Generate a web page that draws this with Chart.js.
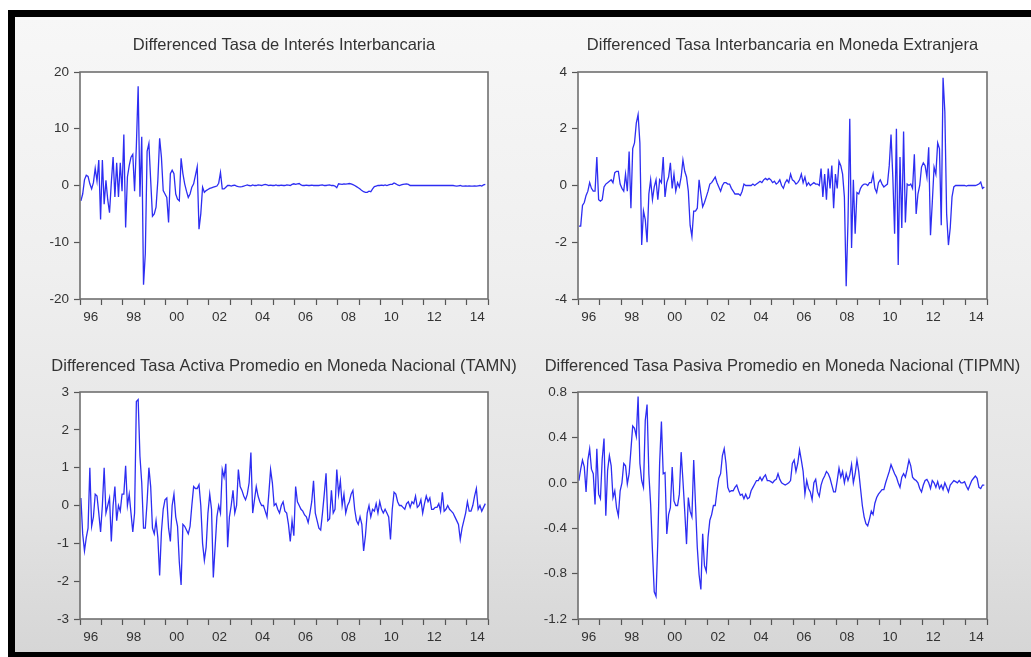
<!DOCTYPE html>
<html>
<head>
<meta charset="utf-8">
<script src="https://cdn.jsdelivr.net/npm/chart.js@4.4.1/dist/chart.umd.min.js"></script>
<style>
  html, body { margin:0; padding:0; background:#ffffff; width:1031px; height:657px; overflow:hidden; position:relative; }
  #frame { position:absolute; left:8px; top:10px; width:1060px; height:647px; box-sizing:border-box;
           border-left:7px solid #000; border-top:7px solid #000; border-bottom:5px solid #000;
           background:linear-gradient(to bottom, #f7f7f7 0%, #efefef 40%, #e4e4e4 75%, #d6d6d6 100%); }
  canvas { position:absolute; }
</style>
</head>
<body>
<div id="frame"></div>
<canvas id="c1" width="500" height="315" style="left:16px;top:17px"></canvas>
<canvas id="c2" width="515" height="315" style="left:516px;top:17px"></canvas>
<canvas id="c3" width="500" height="315" style="left:16px;top:337px"></canvas>
<canvas id="c4" width="515" height="315" style="left:516px;top:337px"></canvas>
<script>
// ---- categories: monthly observations 1996M01 .. 2014M11 ----
const months = [];
for (let y = 1996; y <= 2014; y++) {
  for (let m = 1; m <= 12; m++) {
    if (y === 2014 && m > 11) break;
    months.push(y + '-' + String(m).padStart(2, '0'));
  }
}

// ---- tick labels ----
const yearTicks = [1996,1997,1998,1999,2000,2001,2002,2003,2004,2005,2006,2007,2008,2009,2010,2011,2012,2013,2014,2015];
const yearLabels = {1996:'96',1998:'98',2000:'00',2002:'02',2004:'04',2006:'06',2008:'08',2010:'10',2012:'12',2014:'14'};
const yTicks1 = [-20,-10,0,10,20];
const yTicks2 = [-4,-2,0,2,4];
const yTicks3 = [-3,-2,-1,0,1,2,3];
const yTicks4 = [-1.2,-0.8,-0.4,0.0,0.4,0.8];

// ---- titles ----
const titles = [
  'Differenced Tasa de Interés Interbancaria',
  'Differenced Tasa Interbancaria en Moneda Extranjera',
  'Differenced Tasa Activa Promedio en Moneda Nacional (TAMN)',
  'Differenced Tasa Pasiva Promedio en Moneda Nacional (TIPMN)'
];

// ---- series values ----
const tasaInterbancaria = [
 -2.7,-1.5,1.0,1.8,1.6,0.3,-0.6,0.5,3.0,0.8,
 4.5,-6.0,4.5,-3.3,0.9,-2.5,-4.8,0.5,5.0,-2.0,
 4.0,-2.0,4.0,-1.0,9.0,-7.4,1.5,3.5,5.0,5.5,
 -1.0,7.0,17.5,-2.0,8.6,-17.5,-12.0,6.0,7.4,0.9,
 -5.4,-5.0,-3.8,0.9,8.3,5.0,-0.9,-1.5,-2.1,-6.5,
 2.1,2.7,2.1,-1.5,-2.4,-2.7,4.8,2.1,0.3,-1.0,
 -2.1,-1.5,-0.3,0.3,1.8,3.3,-7.7,-5.0,-0.3,-1.2,
 -0.9,-0.7,-0.5,-0.4,-0.3,-0.2,-0.1,0.4,2.3,-0.6,
 -0.6,-0.3,0.0,0.0,-0.1,0.0,0.05,-0.1,-0.2,-0.25,
 -0.2,-0.1,0.0,0.1,0.0,-0.05,0.1,0.0,0.0,0.1,
 0.05,0.0,0.1,0.2,0.1,0.0,0.05,0.0,0.0,0.1,
 0.0,0.0,0.05,0.0,0.0,0.1,0.05,0.0,0.2,0.3,
 0.2,0.3,0.35,0.1,0.0,0.0,0.05,0.0,0.0,0.05,
 0.0,0.0,0.0,0.0,0.05,0.1,0.0,0.0,0.05,0.1,
 0.0,0.0,-0.1,-0.4,0.3,0.25,0.2,0.3,0.25,0.3,
 0.35,0.3,0.15,0.0,-0.2,-0.4,-0.6,-0.9,-1.1,-1.2,
 -1.2,-1.0,-1.1,-0.6,-0.2,-0.1,0.0,0.0,0.05,0.0,
 0.1,0.0,0.1,0.2,0.2,0.45,0.3,0.1,0.0,0.1,
 0.2,0.25,0.3,0.2,0.0,0.0,0.0,0.0,0.0,0.0,
 0.0,0.0,0.0,0.0,0.0,0.0,0.0,0.0,0.0,0.0,
 0.0,0.0,0.0,0.0,0.0,0.0,0.0,0.0,0.0,-0.05,
 -0.1,-0.05,0.0,-0.1,-0.1,-0.05,-0.1,-0.05,-0.1,-0.1,
 -0.05,-0.1,-0.05,0.0,-0.1,0.1,0.2
];

const tasaInterbancariaME = [
 -1.43,-1.43,-0.7,-0.6,-0.35,-0.2,0.1,-0.1,-0.2,-0.2,
 1.0,-0.5,-0.55,-0.5,-0.05,0.05,0.1,0.15,0.2,0.1,
 0.45,0.5,0.5,0.05,-0.1,-0.2,0.4,-0.2,1.2,-0.8,
 1.3,1.5,2.2,2.5,1.5,-2.1,-0.9,-1.2,-2.0,-0.3,
 0.2,-0.5,-0.05,0.2,-0.5,0.2,0.1,1.0,-0.4,0.1,
 0.3,0.8,-0.1,0.4,-0.2,0.1,-0.05,0.3,0.9,0.5,
 0.3,-0.2,-1.4,-1.8,-0.9,-0.9,-0.8,0.2,-0.3,-0.75,
 -0.6,-0.4,-0.2,0.05,0.1,0.2,0.3,0.1,-0.05,-0.2,
 0.0,0.1,0.1,0.05,0.05,-0.1,-0.2,-0.3,-0.3,-0.3,
 -0.35,-0.2,0.05,0.0,0.0,0.0,0.0,0.05,0.0,0.05,
 0.1,0.15,0.1,0.2,0.25,0.2,0.25,0.2,0.1,0.15,
 0.05,0.1,0.2,0.0,-0.1,0.1,0.2,0.1,0.4,0.2,
 0.15,0.05,0.1,0.2,0.4,0.1,0.3,0.0,0.1,0.0,
 0.05,0.1,0.05,0.05,0.0,0.6,-0.4,0.4,-0.5,0.6,
 -0.1,0.7,-0.8,0.4,-0.1,0.85,0.7,0.4,-0.4,-3.55,
 -1.3,2.35,-2.2,0.2,-1.7,-0.25,-0.3,-0.1,0.0,0.05,
 0.05,0.0,0.1,0.1,0.4,-0.1,-0.25,0.1,0.2,0.05,
 -0.05,0.0,0.05,0.7,1.8,0.3,-1.7,2.0,-2.8,1.0,
 -1.5,1.9,-1.3,0.05,0.0,0.05,-0.1,1.1,-1.0,-0.3,
 0.0,0.65,0.8,0.7,0.3,1.35,-1.75,-0.6,0.65,0.4,
 1.5,1.3,-1.4,3.8,2.6,-1.0,-2.1,-1.5,-0.4,-0.05,
 0.0,0.0,0.0,0.0,0.0,0.0,-0.02,0.0,0.0,0.0,
 0.0,0.0,0.02,0.05,0.12,-0.1,-0.05
];

const tamn = [
 0.2,-0.75,-1.2,-0.85,-0.6,1.0,-0.55,-0.3,0.3,0.25,
 -0.2,-0.7,0.0,1.0,-0.2,0.0,0.2,-0.95,0.0,0.5,
 -0.4,0.0,-0.15,0.3,0.3,1.05,0.0,0.3,-0.2,-0.7,
 -0.2,2.75,2.8,1.3,0.6,-0.6,-0.6,0.1,1.0,0.5,
 -0.6,-0.75,-0.4,-0.85,-1.85,-0.7,-0.1,0.15,0.2,-0.6,
 -0.95,0.0,0.3,-0.3,-0.55,-1.5,-2.1,-0.5,-0.55,-0.65,
 -0.75,-0.55,0.0,0.5,0.45,0.45,0.55,0.0,-1.0,-1.45,
 -1.1,-0.2,0.3,-0.1,-1.9,-1.1,-0.3,0.0,-0.2,0.95,
 0.75,1.1,-1.1,-0.3,0.0,0.4,-0.2,0.0,0.95,0.5,
 0.4,0.25,0.15,0.3,0.6,1.4,-0.2,0.15,0.5,0.25,
 0.1,0.0,0.0,-0.15,-0.3,0.3,0.95,0.6,0.0,0.05,
 -0.1,-0.2,0.0,0.1,-0.15,-0.2,-0.5,-0.95,-0.4,-0.8,
 0.5,0.1,0.0,-0.1,-0.15,-0.25,-0.3,-0.45,-0.2,0.1,
 0.65,-0.2,-0.4,-0.6,-0.65,-0.2,0.3,0.85,-0.4,-0.35,
 0.4,-0.2,-0.1,0.95,0.3,0.65,0.0,0.3,-0.2,0.0,
 0.1,0.3,0.4,-0.1,-0.4,-0.5,-0.3,-0.5,-1.2,-0.8,
 -0.2,0.0,-0.3,-0.1,-0.15,0.05,-0.2,0.1,-0.1,-0.2,
 -0.1,-0.2,-0.3,-0.9,-0.1,0.35,0.3,0.1,0.0,0.0,
 -0.05,-0.1,0.05,0.1,-0.05,0.1,0.05,0.25,-0.05,0.0,
 0.15,-0.2,0.05,0.25,0.1,0.2,-0.1,-0.1,-0.05,-0.05,
 0.05,-0.15,0.35,-0.15,-0.1,0.0,-0.1,-0.15,-0.2,-0.3,
 -0.4,-0.5,-0.9,-0.6,-0.4,-0.2,0.1,-0.15,-0.15,0.0,
 0.25,0.45,-0.1,0.0,-0.15,-0.05,0.05
];

const tipmn = [
 0.02,0.12,0.2,0.14,-0.08,0.2,0.3,0.12,0.08,-0.19,
 0.3,-0.1,-0.14,0.21,0.39,-0.29,0.11,0.24,0.15,-0.13,
 -0.07,-0.22,-0.29,-0.07,0.0,0.17,0.15,-0.01,0.08,0.29,
 0.5,0.48,0.41,0.76,0.17,0.02,-0.04,0.55,0.69,0.08,
 -0.19,-0.6,-0.96,-1.0,-0.51,0.17,0.54,0.08,0.09,-0.45,
 -0.28,-0.22,0.14,-0.16,-0.2,-0.2,-0.1,0.27,0.02,-0.25,
 -0.54,-0.13,-0.25,-0.3,0.2,-0.19,-0.57,-0.81,-0.94,-0.45,
 -0.73,-0.78,-0.48,-0.33,-0.28,-0.2,-0.2,-0.07,0.04,0.08,
 0.24,0.3,0.17,-0.04,-0.08,-0.07,-0.07,-0.04,-0.02,-0.07,
 -0.11,-0.1,-0.14,-0.1,-0.14,-0.13,-0.07,-0.04,-0.01,0.02,
 0.02,0.05,0.02,0.05,0.07,0.02,0.02,0.01,0.0,0.02,
 0.03,0.08,0.03,0.0,-0.01,-0.02,-0.01,0.0,0.02,0.17,
 0.2,0.1,0.17,0.29,0.2,0.1,-0.1,0.02,-0.05,-0.08,
 -0.15,0.0,0.03,-0.08,-0.12,-0.02,0.03,0.06,0.1,0.08,
 0.04,-0.02,-0.08,-0.08,0.02,0.13,0.05,0.1,0.0,0.08,
 0.02,0.07,0.16,0.0,0.08,0.2,0.1,-0.05,-0.2,-0.3,
 -0.36,-0.38,-0.32,-0.25,-0.28,-0.18,-0.13,-0.1,-0.08,-0.06,
 -0.06,0.0,0.05,0.1,0.16,0.12,0.08,0.05,0.0,-0.04,
 0.05,0.08,0.05,0.12,0.2,0.15,0.05,0.03,0.02,0.0,
 -0.05,-0.08,-0.02,0.02,0.03,0.0,-0.05,0.02,0.0,-0.04,
 0.01,-0.05,-0.02,-0.06,0.0,-0.04,-0.08,-0.02,0.0,0.02,
 0.01,0.0,0.02,0.0,0.0,0.01,-0.03,-0.06,-0.02,0.02,
 0.04,0.06,0.04,-0.04,-0.05,-0.02,-0.02
];

// ---- rendering ----
const FONT = '"Liberation Sans", Arial, Helvetica, sans-serif';
const obsX = months.map(s => { const [y, m] = s.split('-').map(Number); return y + (m - 0.5) / 12; });

const panelDeco = {
  id: 'panelDeco',
  beforeDraw(chart) {
    const { ctx, chartArea: a } = chart;
    ctx.save();
    ctx.fillStyle = '#ffffff';
    ctx.fillRect(a.left, a.top, a.right - a.left, a.bottom - a.top);
    ctx.restore();
  },
  afterDraw(chart, args, opts) {
    const { ctx, chartArea: a } = chart;
    ctx.save();
    ctx.strokeStyle = '#707070';
    ctx.lineWidth = 1.6;
    ctx.strokeRect(a.left, a.top, a.right - a.left, a.bottom - a.top);
    ctx.fillStyle = '#333333';
    ctx.font = '16.5px ' + FONT;
    ctx.textAlign = 'center';
    ctx.textBaseline = 'middle';
    ctx.fillText(opts.text, (a.left + a.right) / 2, opts.y);
    ctx.restore();
  }
};

function makePanel(id, title, titleY, values, yTicks, fmt, padLeft, padRight) {
  const canvas = document.getElementById(id);
  return new Chart(canvas, {
    type: 'line',
    data: {
      datasets: [{
        data: values.map((v, i) => ({ x: obsX[i], y: v })),
        borderColor: '#2d2df2',
        borderWidth: 1.3,
        pointRadius: 0,
        tension: 0,
        fill: false
      }]
    },
    options: {
      responsive: false,
      animation: false,
      events: [],
      layout: { padding: { left: padLeft, right: padRight, top: 55, bottom: 3 } },
      plugins: {
        legend: { display: false },
        tooltip: { enabled: false },
        title: { display: false },
        panelDeco: { text: title, y: titleY }
      },
      scales: {
        x: {
          type: 'linear',
          min: yearTicks[0],
          max: yearTicks[yearTicks.length - 1],
          afterBuildTicks: s => { s.ticks = yearTicks.map(v => ({ value: v })); },
          afterFit: s => { s.height = 30; },
          ticks: {
            autoSkip: false, maxRotation: 0, minRotation: 0,
            labelOffset: 10.74, padding: 4,
            color: '#333333', font: { family: FONT, size: 13.5 },
            callback: v => yearLabels[v] || ''
          },
          grid: { drawOnChartArea: false, drawTicks: true, tickLength: 6, tickColor: '#555555', tickWidth: 1.2 },
          border: { display: false }
        },
        y: {
          type: 'linear',
          min: yTicks[0],
          max: yTicks[yTicks.length - 1],
          afterBuildTicks: s => { s.ticks = yTicks.map(v => ({ value: v })); },
          afterFit: s => { s.width = 44; },
          ticks: {
            padding: 5, color: '#333333', font: { family: FONT, size: 13.5 },
            callback: v => fmt(v)
          },
          grid: { drawOnChartArea: false, drawTicks: true, tickLength: 6, tickColor: '#555555', tickWidth: 1.2 },
          border: { display: false }
        }
      }
    },
    plugins: [panelDeco]
  });
}

const intFmt = v => String(Math.round(v));
const decFmt = v => v.toFixed(1);

makePanel('c1', titles[0], 28, tasaInterbancaria, yTicks1, intFmt, 20, 28);
makePanel('c2', titles[1], 28, tasaInterbancariaME, yTicks2, intFmt, 18, 44);
makePanel('c3', titles[2], 29, tamn, yTicks3, intFmt, 20, 28);
makePanel('c4', titles[3], 29, tipmn, yTicks4, decFmt, 18, 44);
</script>
</body>
</html>
